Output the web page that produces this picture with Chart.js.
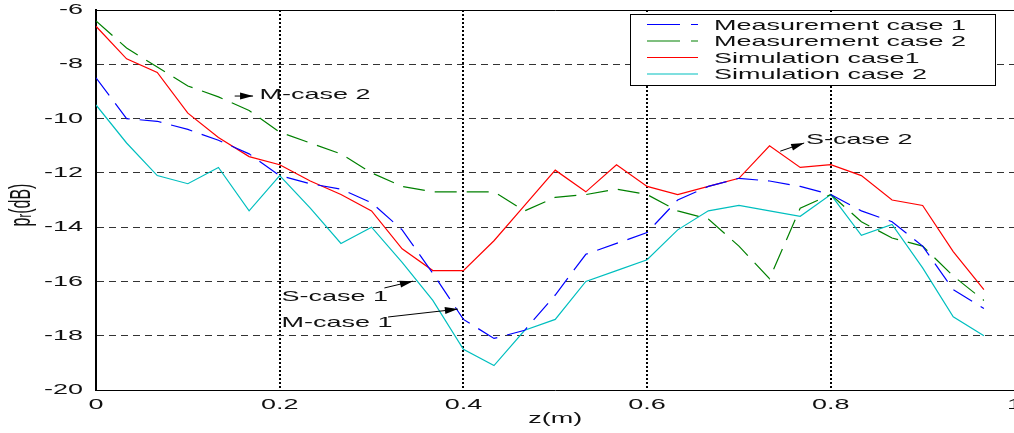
<!DOCTYPE html>
<html><head><meta charset="utf-8">
<script src="https://cdn.jsdelivr.net/npm/chart.js@4"></script>
<style>
html,body{margin:0;padding:0;background:#fff;overflow:hidden;width:1014px;height:433px}
#wrap{position:absolute;left:0;top:0;width:1028px;height:433px}
</style>
</head><body><div id="wrap"><canvas id="c"></canvas></div>
<script>
// ---------- data ----------
const zValues = [0, 0.0333, 0.0667, 0.1, 0.1333, 0.1667, 0.2, 0.2333, 0.2667, 0.3,
  0.3333, 0.3667, 0.4, 0.4333, 0.4667, 0.5, 0.5333, 0.5667, 0.6, 0.6333,
  0.6667, 0.7, 0.7333, 0.7667, 0.8, 0.8333, 0.8667, 0.9, 0.9333, 0.9667];
const measurementCase1 = [-8.5, -10.0, -10.1, -10.4, -10.8, -11.3, -12.1, -12.4, -12.6, -13.1,
  -14.1, -15.7, -17.4, -18.1, -17.8, -16.5, -15.0, -14.6, -14.2, -13.0,
  -12.5, -12.2, -12.3, -12.5, -12.8, -13.4, -13.8, -14.7, -16.3, -17.0];
const measurementCase2 = [-6.4, -7.4, -8.1, -8.8, -9.2, -9.7, -10.5, -10.9, -11.3, -12.0,
  -12.5, -12.7, -12.7, -12.7, -13.4, -12.9, -12.8, -12.6, -12.8, -13.4,
  -13.7, -14.7, -15.9, -13.3, -12.8, -13.8, -14.4, -14.7, -15.8, -16.7];
const simulationCase1 = [-6.6, -7.8, -8.3, -9.8, -10.7, -11.4, -11.7, -12.3, -12.8, -13.4,
  -14.8, -15.6, -15.6, -14.5, -13.2, -11.9, -12.7, -11.7, -12.5, -12.8,
  -12.5, -12.2, -11.0, -11.8, -11.7, -12.1, -13.0, -13.2, -14.9, -16.3];
const simulationCase2 = [-9.5, -10.9, -12.1, -12.4, -11.8, -13.4, -12.1, -13.3, -14.6, -14.0,
  -15.3, -16.7, -18.5, -19.1, -17.8, -17.4, -16.0, -15.6, -15.2, -14.1,
  -13.4, -13.2, -13.4, -13.6, -12.8, -14.3, -13.9, -15.5, -17.3, -18.0];
const seriesNames = ['Measurement case 1', 'Measurement case 2', 'Simulation case1', 'Simulation case 2'];
const xTickLabels = ['0', '0.2', '0.4', '0.6', '0.8', '1'];
const yTickLabels = ['-20', '-18', '-16', '-14', '-12', '-10', '-8', '-6'];
const xAxisTitle = 'z(m)';
const annotationTexts = ['M-case 2', 'S-case 2', 'S-case 1', 'M-case 1'];

// ---------- layout / style ----------
const annotationLayout = [
  {tx: 0.178, ty: -9.13, ax: 0.151, ay: -9.17, hx: 0.171, hy: -9.17},
  {tx: 0.773, ty: -10.79, ax: 0.745, ay: -11.20, hx: 0.771, hy: -10.90},
  {tx: 0.202, ty: -16.57, ax: 0.314, ay: -16.24, hx: 0.345, hy: -15.99},
  {tx: 0.202, ty: -17.53, ax: 0.318, ay: -17.31, hx: 0.394, hy: -17.02}
];
const colors = ['#0000ff', '#008000', '#ff0000', '#00bfbf'];
const dashes = [[22, 10], [22, 10], [], []];
const FONT = '"Liberation Sans", Arial, Helvetica, sans-serif';
const TEXT = '#111';
const K = 1.8; // horizontal text stretch of the original figure

const canvas = document.getElementById('c');
const ctx = canvas.getContext('2d');
const nFill = CanvasRenderingContext2D.prototype.fillText;
const nMeasure = CanvasRenderingContext2D.prototype.measureText;
ctx.fillText = function (t, x, y) {
  const m = this.getTransform();
  const px = m.a * x + m.c * y + m.e;
  this.save();
  this.setTransform(new DOMMatrix([K, 0, 0, 1, px * (1 - K), 0]).multiply(m));
  nFill.call(this, t, x, y);
  this.restore();
};
ctx.measureText = function (t) {
  const r = nMeasure.call(this, t);
  return {
    width: r.width * K,
    actualBoundingBoxLeft: r.actualBoundingBoxLeft * K,
    actualBoundingBoxRight: r.actualBoundingBoxRight * K,
    actualBoundingBoxAscent: r.actualBoundingBoxAscent,
    actualBoundingBoxDescent: r.actualBoundingBoxDescent,
    fontBoundingBoxAscent: r.fontBoundingBoxAscent,
    fontBoundingBoxDescent: r.fontBoundingBoxDescent
  };
};

const seriesValues = [measurementCase1, measurementCase2, simulationCase1, simulationCase2];
const datasets = seriesValues.map((vals, i) => ({
  label: seriesNames[i],
  data: zValues.map((z, j) => ({x: z, y: vals[j]})),
  borderColor: colors[i],
  backgroundColor: colors[i],
  borderWidth: 1.2,
  borderDash: dashes[i],
  pointRadius: 0,
  fill: false,
  tension: 0
}));

function drawArrow(c, x1, y1, x2, y2) {
  c.beginPath(); c.moveTo(x1, y1); c.lineTo(x2, y2); c.stroke();
  const a = Math.atan2(y2 - y1, x2 - x1), L = 13, W = 3.5;
  c.beginPath();
  c.moveTo(x2, y2);
  c.lineTo(x2 - L * Math.cos(a) + W * Math.sin(a), y2 - L * Math.sin(a) - W * Math.cos(a));
  c.lineTo(x2 - L * Math.cos(a) - W * Math.sin(a), y2 - L * Math.sin(a) + W * Math.cos(a));
  c.closePath(); c.fill();
}

const decor = {
  id: 'decor',
  afterDraw(chart) {
    const c = chart.ctx, a = chart.chartArea, xs = chart.scales.x, ys = chart.scales.y;
    c.save();
    // top frame line
    c.strokeStyle = '#000'; c.lineWidth = 1; c.setLineDash([]);
    c.beginPath(); c.moveTo(a.left, Math.round(a.top) + 0.5); c.lineTo(a.right, Math.round(a.top) + 0.5); c.stroke();

    // annotations
    c.font = '15px ' + FONT; c.fillStyle = TEXT; c.strokeStyle = '#000';
    c.textAlign = 'left'; c.textBaseline = 'middle'; c.lineWidth = 1;
    annotationLayout.forEach((p, i) => {
      c.fillText(annotationTexts[i], xs.getPixelForValue(p.tx), ys.getPixelForValue(p.ty));
      c.fillStyle = '#000';
      drawArrow(c, xs.getPixelForValue(p.ax), ys.getPixelForValue(p.ay),
                   xs.getPixelForValue(p.hx), ys.getPixelForValue(p.hy));
      c.fillStyle = TEXT;
    });

    // legend box
    const bx = 630, by = 14, bw = 365, bh = 71;
    c.fillStyle = '#fff'; c.fillRect(bx, by, bw, bh);
    c.strokeStyle = '#000'; c.lineWidth = 1;
    c.strokeRect(bx + 0.5, by + 0.5, bw, bh);
    const rows = [24.5, 41, 57.5, 74];
    chart.data.datasets.forEach((ds, i) => {
      c.strokeStyle = ds.borderColor; c.lineWidth = 1.2;
      c.setLineDash(ds.borderDash.length ? [33, 11] : []);
      c.beginPath(); c.moveTo(647, rows[i]); c.lineTo(698, rows[i]); c.stroke();
      c.setLineDash([]);
      c.fillStyle = TEXT; c.font = '15px ' + FONT;
      c.textAlign = 'left'; c.textBaseline = 'middle';
      c.fillText(ds.label, 714, rows[i] + 1);
    });

    // y axis title with subscript
    c.translate(22, 205); c.rotate(-Math.PI / 2);
    c.fillStyle = TEXT; c.textAlign = 'left'; c.textBaseline = 'middle';
    c.font = '16px ' + FONT;
    const wp = nMeasure.call(c, 'p').width, wrest = nMeasure.call(c, '(dB)').width;
    c.font = '11px ' + FONT;
    const wr = nMeasure.call(c, 'r').width;
    let x0 = -(wp + wr + wrest) / 2;
    c.font = '16px ' + FONT; c.fillText('p', x0, 0);
    c.font = '11px ' + FONT; c.fillText('r', x0 + wp, 4);
    c.font = '16px ' + FONT; c.fillText('(dB)', x0 + wp + wr, 0);
    c.restore();
  }
};

new Chart(canvas, {
  type: 'line',
  data: {datasets},
  plugins: [decor],
  options: {
    responsive: true,
    maintainAspectRatio: false,
    animation: false,
    layout: {padding: {top: 0, left: 0, right: 0, bottom: 0}},
    plugins: {legend: {display: false}, tooltip: {enabled: false}},
    scales: {
      x: {
        type: 'linear', min: 0, max: 1,
        afterFit: s => { s.height = 43; },
        ticks: {stepSize: 0.2, padding: 6, color: TEXT, font: {family: FONT, size: 15},
          maxRotation: 0, autoSkip: false, callback: (v, i) => xTickLabels[i]},
        grid: {drawTicks: false, lineWidth: 2, z: -1,
          color: c => (c.index === 0 || c.index === xTickLabels.length - 1) ? 'rgba(0,0,0,0)' : '#000'},
        border: {display: true, color: '#000', width: 1, dash: [2, 2]},
        title: {display: true, text: xAxisTitle, color: TEXT, font: {family: FONT, size: 15},
          padding: {top: 0, bottom: 5}}
      },
      y: {
        type: 'linear', min: -20, max: -6,
        afterFit: s => { s.width = 96; s.paddingTop = 10; s.paddingBottom = 0; },
        ticks: {stepSize: 2, padding: 13, color: TEXT, font: {family: FONT, size: 15},
          autoSkip: false, callback: (v, i) => yTickLabels[i]},
        grid: {drawTicks: false, lineWidth: 1, z: -1,
          color: c => (c.index === 0 || c.index === yTickLabels.length - 1) ? 'rgba(0,0,0,0)' : '#333'},
        border: {display: true, color: '#000', width: 2, dash: [7, 5]}
      }
    }
  }
});
</script>
</body></html>
